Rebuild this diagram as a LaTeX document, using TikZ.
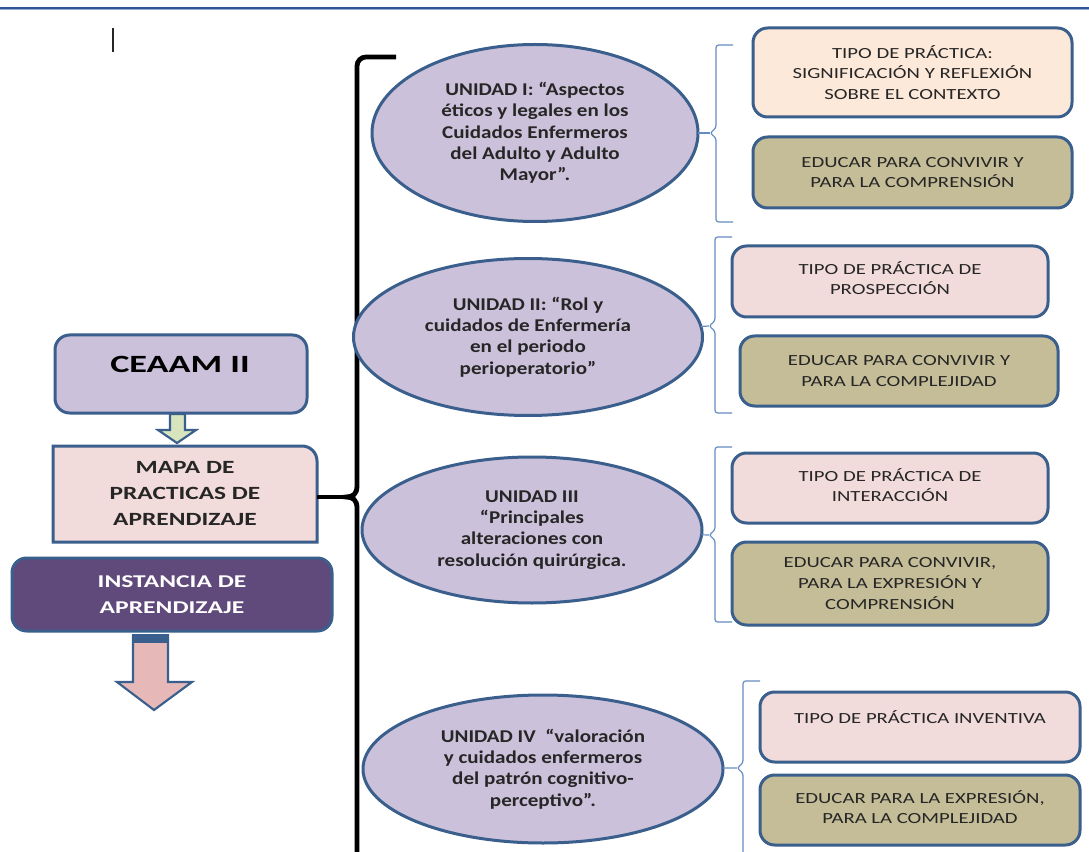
\documentclass[tikz,border=0pt]{standalone}
\usepackage{fontspec}
\setmainfont{Carlito}
\newfontfamily\fboxfont[FakeStretch=1.34]{Carlito}
\newfontfamily\fellfont[FakeStretch=1.17]{Carlito}
\newfontfamily\fceaam[FakeStretch=1.46]{Carlito}
\newfontfamily\fmapa[FakeStretch=1.36]{Carlito}
\newfontfamily\finst[FakeStretch=1.42]{Carlito}
\usetikzlibrary{shapes.geometric,calc,backgrounds}
\definecolor{bord}{RGB}{58,95,140}
\definecolor{lav}{RGB}{204,193,218}
\definecolor{peach}{RGB}{253,233,217}
\definecolor{pinkb}{RGB}{242,220,219}
\definecolor{olive}{RGB}{196,189,151}
\definecolor{dpurp}{RGB}{96,74,123}
\definecolor{lgreen}{RGB}{215,228,189}
\definecolor{parrow}{RGB}{230,185,184}
\definecolor{thinblue}{RGB}{100,140,195}
\definecolor{topblue}{RGB}{47,85,151}
\definecolor{toplight}{RGB}{150,172,210}
\definecolor{txt}{RGB}{38,38,38}
\tikzset{
  shp/.style={draw=bord, line width=2.25pt, inner sep=0pt, outer sep=0pt},
  rbox/.style={shp, rectangle, rounded corners=11pt, align=center, text=txt,
    font=\fboxfont\fontsize{11.6}{15.4}\selectfont},
  ell/.style={shp, ellipse, fill=lav, align=center, text=txt,
    font=\fellfont\bfseries\fontsize{13.5}{16}\selectfont},
  thinb/.style={draw=thinblue, line width=0.9pt, rounded corners=2pt},
  bigbrace/.style={draw=black, line width=3.6pt},
  arrowshape/.style={draw=bord, line width=1.6pt, line join=miter},
}
\begin{document}
\begin{tikzpicture}[x=0.75pt,y=-0.75pt]
\clip (0,0) rectangle (1089,852);
\begin{scope}[on background layer]
\fill[white] (0,0) rectangle (1089,852);
\end{scope}
% top rule
\draw[topblue, line width=1.5pt] (0,8) -- (1089,8);
\draw[toplight, line width=0.6pt] (0,9.8) -- (1089,9.8);
% cursor mark
\draw[black!85, line width=1.1pt] (113,28) -- (113,52);

% left column
\node[rbox, fill=lav, minimum width=252*0.75pt, minimum height=78*0.75pt] (ceaam) at (181,374) {};
\node[text=black, font=\fceaam\bfseries\fontsize{18.6}{22}\selectfont] (ceaamt) at (180,364) {CEAAM II};

\draw[arrowshape, fill=lgreen] (170,414) -- (185,414) -- (185,430) -- (196,430)
  -- (177,443) -- (158,430) -- (170,430) -- cycle;

\node[inner sep=0pt, outer sep=0pt, minimum width=264*0.75pt, minimum height=96*0.75pt,
  align=center, text=txt, font=\fmapa\bfseries\fontsize{14}{19.5}\selectfont] (mapa) at (185,494)
  {MAPA DE\\PRACTICAS DE\\APRENDIZAJE};
\begin{scope}[on background layer]
\draw[shp, fill=pinkb] (mapa.south west) -- (mapa.north west) -- ($(mapa.north east)+(-15,0)$)
  arc[start angle=90, end angle=0, radius=11.25pt] -- (mapa.south east) -- cycle;
\end{scope}

\node[rbox, fill=dpurp, text=white, minimum width=320*0.75pt, minimum height=73*0.75pt,
  font=\finst\bfseries\fontsize{13.5}{19.5}\selectfont] (inst) at (172,594.5)
  {INSTANCIA DE\\APRENDIZAJE};

\draw[arrowshape, fill=parrow] (133,636) -- (168,636) -- (168,682) -- (192,682)
  -- (154,710) -- (117,682) -- (133,682) -- cycle;
\fill[bord] (132,634) rectangle (169,643);

% big black brace
\coordinate (bcusp) at (346,497);
\draw[bigbrace] (396,57) -- (366,57) arc[start angle=90, end angle=180, radius=6.75pt]
  -- (357,486) .. controls (357,494) and (353,497) .. (bcusp)
  .. controls (353,497) and (357,500) .. (357,508) -- (357,870);
\draw[bigbrace] (mapa.east |- bcusp) -- (bcusp);

% ellipses
\node[ell, minimum width=326*0.75pt, minimum height=177*0.75pt] (e1) at (535,133)
  {UNIDAD I: “Aspectos\\éticos y legales en los\\Cuidados Enfermeros\\del Adulto y Adulto\\Mayor”.};
\node[ell, minimum width=349*0.75pt, minimum height=157*0.75pt] (e2) at (528,337)
  {UNIDAD II: “Rol y\\cuidados de Enfermería\\en el periodo\\perioperatorio”};
\node[ell, minimum width=340*0.75pt, minimum height=146*0.75pt] (e3) at (532,530)
  {UNIDAD III\\“Principales\\alteraciones con\\resolución quirúrgica.};
\node[ell, minimum width=360*0.75pt, minimum height=148*0.75pt] (e4) at (543,769)
  {UNIDAD IV\ \ “valoración\\y cuidados enfermeros\\del patrón cognitivo-\\perceptivo”.};

% right boxes
\node[rbox, fill=peach, minimum width=319*0.75pt, minimum height=89*0.75pt] (g1a) at (912.5,72.5)
  {TIPO DE PRÁCTICA:\\SIGNIFICACIÓN Y REFLEXIÓN\\SOBRE EL CONTEXTO};
\node[rbox, fill=olive, minimum width=319*0.75pt, minimum height=71*0.75pt] (g1b) at (912.5,172.5)
  {EDUCAR PARA CONVIVIR Y\\PARA LA COMPRENSIÓN};
\node[rbox, fill=pinkb, minimum width=316*0.75pt, minimum height=71*0.75pt] (g2a) at (890,281.5) {};
\node[align=center, text=txt, font=\fboxfont\fontsize{11.6}{15.4}\selectfont] (g2at) at (890,278)
  {TIPO DE PRÁCTICA DE\\PROSPECCIÓN};
\node[rbox, fill=olive, minimum width=318*0.75pt, minimum height=70*0.75pt] (g2b) at (899,371)
  {EDUCAR PARA CONVIVIR Y\\PARA LA COMPLEJIDAD};
\node[rbox, fill=pinkb, minimum width=316*0.75pt, minimum height=70*0.75pt] (g3a) at (890,488) {};
\node[align=center, text=txt, font=\fboxfont\fontsize{11.6}{15.4}\selectfont] (g3at) at (890,485)
  {TIPO DE PRÁCTICA DE\\INTERACCIÓN};
\node[rbox, fill=olive, minimum width=316*0.75pt, minimum height=83*0.75pt] (g3b) at (890,583.5)
  {EDUCAR PARA CONVIVIR,\\PARA LA EXPRESIÓN Y\\COMPRENSIÓN};
\node[rbox, fill=pinkb, minimum width=320*0.75pt, minimum height=70*0.75pt] (g4a) at (920,727) {};
\node[text=txt, font=\fboxfont\fontsize{11.6}{15.4}\selectfont] (g4at) at (920,717) {TIPO DE PRÁCTICA INVENTIVA};
\node[rbox, fill=olive, minimum width=320*0.75pt, minimum height=70*0.75pt] (g4b) at (920,810) {};
\node[align=center, text=txt, font=\fboxfont\fontsize{11.6}{15.4}\selectfont] (g4bt) at (920,807)
  {EDUCAR PARA LA EXPRESIÓN,\\PARA LA COMPLEJIDAD};

% thin brackets
\coordinate (c1) at (710,133);
\draw[thinb] (733,45) -- (716,45) -- (716,128) -- (c1) -- (716,138) -- (716,222) -- (733,222);
\draw[thinb] (e1) -- (c1);
\coordinate (c2) at (709,326);
\draw[thinb] (732,237) -- (715,237) -- (715,321) -- (c2) -- (715,331) -- (715,413) -- (732,413);
\draw[thinb] (e2) -- (c2);
\coordinate (c3) at (709,535);
\draw[thinb] (732,447) -- (715,447) -- (715,530) -- (c3) -- (715,540) -- (715,622) -- (732,622);
\draw[thinb] (e3) -- (c3);
\coordinate (c4) at (737,768);
\draw[thinb] (760,681) -- (743,681) -- (743,763) -- (c4) -- (743,773) -- (743,870);
\draw[thinb] (e4) -- (c4);
\end{tikzpicture}
\end{document}
